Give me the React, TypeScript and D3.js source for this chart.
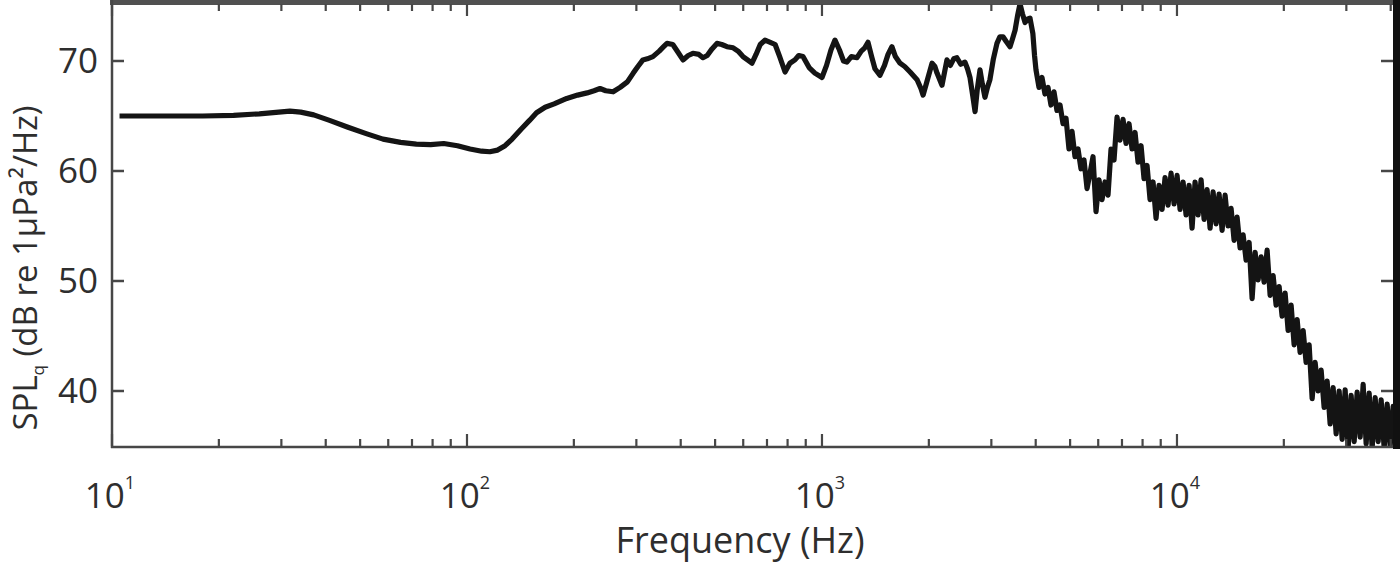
import React from "react";
import * as d3 from "d3";

// ---- data ----
const freqHz: number[] = [
  10.5, 14, 18, 22, 26, 31.7, 34, 37, 41, 46, 52, 58, 65, 72, 79, 86, 94, 102, 110, 116,
  122, 128, 134, 142, 150, 157, 166, 176, 191, 205, 218, 228, 237, 246, 258, 270, 283, 294, 303, 313,
  322, 334, 348, 358, 366, 380, 393, 406, 420, 433, 450, 462, 475, 490, 506, 522, 540, 562, 580, 599,
  617, 635, 652, 670, 691, 715, 738, 760, 787, 812, 839, 860, 884, 920, 955, 1000, 1030, 1060, 1088, 1120,
  1150, 1175, 1210, 1255, 1290, 1320, 1348, 1380, 1410, 1456, 1500, 1535, 1574, 1610, 1659, 1710, 1771, 1853, 1900, 1927,
  1970, 2042, 2080, 2109, 2178, 2215, 2249, 2300, 2350, 2399, 2460, 2528, 2570, 2612, 2660, 2699, 2740, 2787, 2830, 2878,
  2925, 2972, 3040, 3111, 3170, 3236, 3300, 3386, 3440, 3499, 3560, 3613, 3670, 3733, 3790, 3855, 3927, 3970,
  4007, 4086, 4166, 4248, 4332, 4417, 4504, 4592, 4683, 4775, 4869, 4964, 5062, 5161, 5263, 5366, 5472, 5580, 5689, 5801,
  5915, 6031, 6150, 6271, 6394, 6520, 6648, 6779, 6912, 7048, 7187, 7328, 7472, 7619, 7769, 7922, 8077, 8236, 8398, 8563,
  8732, 8903, 9078, 9257, 9439, 9624, 9814, 10007, 10203, 10404, 10608, 10817, 11030, 11246, 11467, 11693, 11923, 12157, 12396, 12640,
  12888, 13142, 13400, 13664, 13932, 14206, 14485, 14770, 15061, 15357, 15659, 15967, 16281, 16601, 16927, 17260, 17599, 17945, 18298, 18657,
  19024, 19398, 19779, 20168, 20565, 20969, 21381, 21801, 22230, 22667, 23112, 23567, 24030, 24502, 24984, 25475, 25976, 26486, 27007, 27538,
  28079, 28631, 29194, 29768, 30353, 30949, 31558, 32178, 32810, 33455, 34113, 34783, 35467, 36164, 36875, 37600, 38339, 39092, 39861, 40644,
  41443,
];
const splDb: number[] = [
  65.0, 65.0, 65.0, 65.05, 65.2, 65.45, 65.35, 65.1, 64.6, 64.0, 63.4, 62.9, 62.6, 62.45, 62.4, 62.5, 62.3, 62.0, 61.8, 61.75,
  61.9, 62.3, 62.9, 63.8, 64.6, 65.3, 65.8, 66.1, 66.6, 66.9, 67.1, 67.3, 67.5, 67.3, 67.2, 67.6, 68.1, 68.9, 69.5, 70.1,
  70.2, 70.4, 70.9, 71.3, 71.6, 71.5, 70.8, 70.1, 70.5, 70.7, 70.6, 70.3, 70.5, 71.1, 71.6, 71.5, 71.3, 71.2, 70.9, 70.4,
  70.1, 69.8, 70.6, 71.5, 71.9, 71.7, 71.5, 70.4, 69.0, 69.8, 70.1, 70.5, 70.4, 69.4, 68.9, 68.5, 69.6, 71.0, 71.9, 71.0,
  70.0, 69.9, 70.4, 70.3, 70.9, 71.2, 71.7, 70.4, 69.3, 68.7, 69.6, 70.6, 71.3, 70.4, 69.8, 69.5, 69.0, 68.3, 67.5, 66.9,
  68.0, 69.8, 69.5, 68.9, 67.8, 69.0, 70.1, 69.6, 70.2, 70.3, 69.7, 69.9, 69.3, 68.5, 66.8, 65.4, 67.5, 69.2, 67.9, 66.7,
  67.6, 68.3, 70.2, 71.6, 72.2, 72.2, 71.8, 71.3, 72.0, 72.8, 74.2, 75.2, 74.3, 73.5, 73.8, 73.9, 72.5, 70.5,
  69.2, 67.6, 68.5, 67.0, 67.6, 66.0, 67.2, 65.5, 66.0, 64.3, 64.8, 62.0, 63.6, 61.3, 62.0, 60.2, 61.0, 58.4, 59.8, 61.3,
  56.3, 59.2, 57.4, 59.0, 57.8, 62.0, 61.0, 64.9, 62.8, 64.7, 62.5, 64.3, 62.0, 63.5, 60.8, 62.3, 59.3, 60.5, 57.4, 59.0,
  55.7, 58.7, 56.5, 59.4, 56.9, 59.8, 57.0, 59.6, 56.5, 59.0, 56.0, 58.7, 54.8, 59.0, 56.0, 59.2, 55.6, 58.3, 54.8, 58.1,
  55.2, 57.9, 54.6, 57.8, 55.0, 56.6, 53.7, 55.8, 53.0, 54.2, 51.9, 53.5, 48.4, 52.6, 50.1, 52.2, 49.9, 52.8, 48.7, 50.5,
  47.8, 49.5, 46.8, 48.9, 45.5, 47.8, 44.2, 46.5, 43.5, 45.5, 42.6, 44.2, 39.3, 42.6, 40.0, 41.9, 38.5, 40.9, 37.0, 40.3,
  36.1, 40.0, 35.6, 40.1, 34.8, 39.6, 35.4, 39.9, 35.8, 40.6, 35.2, 39.8, 34.8, 39.4, 35.4, 39.2, 34.8, 38.8, 35.0, 38.6,
  35.2,
];
const xMajorTicks: number[] = [10, 100, 1000, 10000];
const xMajorExponents: string[] = ["1", "2", "3", "4"];
const yTicks: number[] = [40, 50, 60, 70];
const xDomain: number[] = [10, 41400];
const yDomain: number[] = [35, 75];

const W = 1400;
const H = 564;
const L = 112;
const R = 1396;
const T = 6;
const B = 446;
const FONT = "'Open Sans', 'Noto Sans', sans-serif";
const TXT = "#2e2e2e";
const AX = "#474747";

export default function App() {
  const x = d3.scaleLog().domain(xDomain).range([L, R]);
  const y = d3.scaleLinear().domain(yDomain).range([B, T]);
  const pts = freqHz.map((f, i) => [f, splDb[i]] as [number, number]);
  const line = d3
    .line<[number, number]>()
    .x((d) => x(d[0]))
    .y((d) => y(d[1]));
  const minor = x.ticks().filter((t) => !xMajorTicks.includes(t) && t >= xDomain[0] && t <= xDomain[1]);

  return (
    <svg width={W} height={H} style={{ position: "absolute", left: 0, top: 0, background: "#fff" }}>
      <defs>
        <clipPath id="plotclip">
          <rect x={L} y={0} width={R - L} height={B + 1} />
        </clipPath>
      </defs>

      {/* data line */}
      <path
        d={line(pts) || ""}
        fill="none"
        stroke="#141414"
        strokeWidth={5.2}
        strokeLinejoin="round"
        clipPath="url(#plotclip)"
      />

      {/* axes frame */}
      <rect x={L - 2} y={0} width={W - L + 2} height={5} fill="#505050" />
      <line x1={L} x2={L} y1={0} y2={B + 2} stroke={AX} strokeWidth={2.5} />
      <line x1={L - 1} x2={R} y1={B + 1} y2={B + 1} stroke={AX} strokeWidth={2.5} />
      <rect x={1393} y={0} width={7} height={B + 3} fill="#111" />

      {/* x ticks */}
      {xMajorTicks.map((t) => (
        <g key={"M" + t}>
          <line x1={x(t)} x2={x(t)} y1={B} y2={B - 12} stroke={AX} strokeWidth={2.2} />
          <line x1={x(t)} x2={x(t)} y1={4} y2={16} stroke={AX} strokeWidth={2.2} />
        </g>
      ))}
      {minor.map((t) => (
        <g key={"m" + t}>
          <line x1={x(t)} x2={x(t)} y1={B} y2={B - 7} stroke={AX} strokeWidth={2.2} />
          <line x1={x(t)} x2={x(t)} y1={4} y2={11} stroke={AX} strokeWidth={2.2} />
        </g>
      ))}

      {/* y ticks */}
      {yTicks.map((t) => (
        <g key={"y" + t}>
          <line x1={L} x2={L + 12} y1={y(t)} y2={y(t)} stroke={AX} strokeWidth={2.5} />
          <line x1={1393} x2={1381} y1={y(t)} y2={y(t)} stroke={AX} strokeWidth={2.5} />
          <text x={98} y={y(t) + 12} textAnchor="end" fontFamily={FONT} fontSize={35} fill={TXT}>
            {t}
          </text>
        </g>
      ))}

      {/* x tick labels */}
      {xMajorTicks.map((t, i) => (
        <text key={"xl" + t} x={x(t) - 2} y={508} textAnchor="middle" fontFamily={FONT} fontSize={35} fill={TXT}>
          10
          <tspan fontSize={18} dy={-19}>
            {xMajorExponents[i]}
          </tspan>
        </text>
      ))}

      {/* axis titles */}
      <text x={740} y={553} textAnchor="middle" fontFamily={FONT} fontSize={36} fill={TXT}>
        Frequency (Hz)
      </text>
      <text
        transform="translate(37,268) rotate(-90)"
        textAnchor="middle"
        fontFamily={FONT}
        fontSize={33}
        fill={TXT}
      >
        SPL
        <tspan fontSize={17} dy={7}>
          q
        </tspan>
        <tspan dy={-7}> (dB re 1μPa²/Hz)</tspan>
      </text>
    </svg>
  );
}
